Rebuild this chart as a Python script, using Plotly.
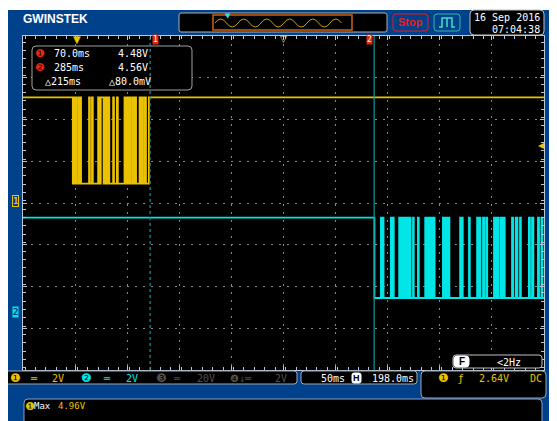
import plotly.graph_objects as go

time_range_ms = [-52.0, 448.0]      # 10 div x 50 ms, H position 198.0 ms
time_per_div_ms = 50.0
h_position_ms = 198.0
trigger_time_ms = 0.0
trigger_level_v = 2.64

ch1_volts_per_div = 2.0
ch1_ground_div = 0.05
ch1_high_v = 4.96
ch1_low_v = 0.83
ch1_fall_ms = -4.2
ch1_rise_ms = 68.8
ch1_pulses_ms = [(-3.4, -2.6), (-1.7, -1.0), (0.8, 1.6), (2.9, 3.7),
                 (11.4, 12.2), (14.2, 15.0), (20.1, 21.1), (22.6, 25.4),
                 (26.2, 27.0), (27.8, 28.8), (29.8, 30.8), (34.5, 35.3),
                 (38.1, 39.0), (45.4, 46.2), (47.8, 48.6), (50.3, 51.2),
                 (53.0, 53.9), (55.6, 56.5), (59.9, 60.7), (62.3, 63.2),
                 (65.0, 66.0)]

ch2_volts_per_div = 2.0
ch2_ground_div = -2.61
ch2_high_v = 4.52
ch2_low_v = 0.67
ch2_fall_ms = 285.3
ch2_pulses_ms = [(291.5, 292.5), (293.2, 294.0), (301.0, 302.0), (303.0, 303.8),
                 (309.0, 310.0), (311.5, 312.5), (313.5, 315.0), (316.5, 317.5),
                 (318.8, 320.0), (322.3, 323.0), (327.0, 327.8), (334.0, 335.5),
                 (336.8, 338.0), (339.5, 341.0), (342.3, 343.0), (351.0, 352.2),
                 (353.5, 355.0), (356.2, 357.2), (367.5, 368.5), (369.2, 370.0),
                 (376.0, 376.8), (383.8, 385.0), (386.2, 387.0), (389.5, 390.5),
                 (392.5, 393.5), (400.0, 401.5), (403.0, 404.5), (406.5, 408.0),
                 (409.5, 410.3), (417.3, 418.5), (421.0, 422.5), (425.0, 425.8),
                 (433.5, 434.5), (436.5, 437.8), (442.2, 443.2), (445.5, 446.5)]

cursor_times_ms = [70.0, 285.0]
cursor_readout = [("70.0ms", "4.48V"), ("285ms", "4.56V"), ("215ms", "80.0mV")]
measure_max = "4.96V"
date_text = "16 Sep 2016"
time_text = "07:04:38"

# ---------------- styling ----------------
BLUE = "#00418C"
YEL = "#EBC200"
CYA = "#00E6E6"
TEAL = "#109A9A"
GRAY = "#9AA4B0"
MONO = "DejaVu Sans Mono"
SANS = "Liberation Sans"

PAGE = 8                       # browser body margin
W, H = 557 - PAGE, 421 - PAGE
# plot area in screen pixels
PL, PR, PT, PB = 23, 544, 36, 370


def X(px):
    return (px - PL) / (PR - PL)


def Y(py):
    return (PB - py) / (PB - PT)


def build(fall, pulses, rise, high, low):
    xs = [time_range_ms[0], fall]
    ys = [high, low]
    for a, b in pulses:
        xs += [a, b]
        ys += [high, low]
    if rise is not None:
        xs.append(rise)
        ys.append(high)
    xs.append(time_range_ms[1])
    ys.append(ys[-1])
    return xs, ys


x1, y1 = build(ch1_fall_ms, ch1_pulses_ms, ch1_rise_ms, ch1_high_v, ch1_low_v)
x2, y2 = build(ch2_fall_ms, ch2_pulses_ms, None, ch2_high_v, ch2_low_v)

fig = go.Figure()
fig.add_trace(go.Scatter(x=x1, y=y1, mode="lines", line=dict(color=YEL, width=1.8, shape="hv"),
                         yaxis="y", hoverinfo="skip"))
fig.add_trace(go.Scatter(x=x2, y=y2, mode="lines", line=dict(color=CYA, width=1.8, shape="hv"),
                         yaxis="y2", hoverinfo="skip"))

shapes = []
ann = []


def rrect(x0, y0, x1_, y1_, r=3, fill="black", line=GRAY, lw=1):
    p = (f"M {X(x0 + r)},{Y(y0)} L {X(x1_ - r)},{Y(y0)} Q {X(x1_)},{Y(y0)} {X(x1_)},{Y(y0 + r)} "
         f"L {X(x1_)},{Y(y1_ - r)} Q {X(x1_)},{Y(y1_)} {X(x1_ - r)},{Y(y1_)} "
         f"L {X(x0 + r)},{Y(y1_)} Q {X(x0)},{Y(y1_)} {X(x0)},{Y(y1_ - r)} "
         f"L {X(x0)},{Y(y0 + r)} Q {X(x0)},{Y(y0)} {X(x0 + r)},{Y(y0)} Z")
    shapes.append(dict(type="path", path=p, xref="paper", yref="paper", fillcolor=fill,
                       line=dict(color=line, width=lw), layer="above"))


def rect(x0, y0, x1_, y1_, fill, line=None, lw=0):
    shapes.append(dict(type="rect", xref="paper", yref="paper", x0=X(x0), x1=X(x1_), y0=Y(y1_), y1=Y(y0),
                       fillcolor=fill, line=dict(color=line or fill, width=lw), layer="above"))


def txt(s, px, py, color="white", size=10, anchor="left", family=MONO, bg=None, border=None):
    d = dict(text=s, x=X(px), y=Y(py), xref="paper", yref="paper", showarrow=False, xanchor=anchor,
             yanchor="middle", font=dict(color=color, size=size, family=family), borderpad=0)
    if bg:
        d["bgcolor"] = bg
    if border:
        d["bordercolor"] = border
        d["borderwidth"] = 1
    ann.append(d)


# white margin at top
rect(0, 0, 600, 10, "white")

# top bar
txt("<b>GWINSTEK</b>", 22, 19, "white", 12, family=SANS)
rrect(179, 13, 387, 32, r=2, fill="black", line="#B0B0B0")
shapes.append(dict(type="rect", xref="paper", yref="paper", x0=X(213), x1=X(352), y0=Y(30), y1=Y(15),
                   line=dict(color="#D0600A", width=1.5), layer="above"))
q = 5.75
wave = f"M {X(215)},{Y(23)} Q {X(215 + q)},{Y(23 - 8)} {X(215 + 2 * q)},{Y(23)}"
xx = 215 + 2 * q
while xx + 2 * q <= 350:
    xx += 2 * q
    wave += f" T {X(xx)},{Y(23)}"
shapes.append(dict(type="path", path=wave, xref="paper", yref="paper",
                   line=dict(color="#C9A000", width=1), layer="above"))
txt("▼", 228, 16, "#30E0E0", 7, anchor="center", family="DejaVu Sans")

rrect(393, 14, 428, 31, r=3, fill=BLUE, line="#E02020")
txt("<b>Stop</b>", 410.5, 22.5, "#E82020", 11, anchor="center", family=SANS)
rrect(434, 14, 460, 31, r=3, fill=BLUE, line="#30B8A8")
shapes.append(dict(type="path", xref="paper", yref="paper",
                   path=(f"M {X(439)},{Y(27)} L {X(442)},{Y(27)} L {X(442)},{Y(18)} L {X(452)},{Y(18)} "
                         f"L {X(452)},{Y(27)} L {X(455)},{Y(27)} M {X(447)},{Y(18)} L {X(447)},{Y(27)}"),
                   line=dict(color="#40E0C0", width=1.5), layer="above"))
rrect(470, 10, 544, 35, r=4, fill="black", line="#C0C0C0")
txt(date_text, 541, 18, "white", 10, anchor="right")
txt(time_text, 541, 29, "white", 10, anchor="right")

# cursor readout box
rrect(32, 46, 192, 90, r=4, fill="black", line="#A0A0A0")
txt("❶", 34, 53, "#E82810", 11, family="DejaVu Sans")
txt("❷", 34, 67, "#E82810", 11, family="DejaVu Sans")
txt(cursor_readout[0][0], 53, 53, "white", 10)
txt(cursor_readout[0][1], 117, 53, "white", 10)
txt(cursor_readout[1][0], 53, 67, "white", 10)
txt(cursor_readout[1][1], 117, 67, "white", 10)
txt("△" + cursor_readout[2][0], 44, 81, "white", 10)
txt("△" + cursor_readout[2][1], 108, 81, "white", 10)

# cursors
for i, t in enumerate(cursor_times_ms):
    shapes.append(dict(type="line", xref="x", yref="paper", x0=t, x1=t, y0=0, y1=1,
                       line=dict(color=TEAL, width=1.2, dash="3px,3px" if i == 0 else "solid"),
                       layer="above"))
ann.append(dict(text="1", x=cursor_times_ms[0], y=Y(40), xref="x", yref="paper", showarrow=False,
                xshift=5, font=dict(color="white", size=8, family=MONO), bgcolor="#E02810",
                borderpad=0, yanchor="middle"))
ann.append(dict(text="2", x=cursor_times_ms[1], y=Y(40), xref="x", yref="paper", showarrow=False,
                xshift=-5, font=dict(color="white", size=8, family=MONO), bgcolor="#E02810",
                borderpad=0, yanchor="middle"))

# trigger / position markers
ann.append(dict(text="▼", x=trigger_time_ms, y=Y(39), xref="x", yref="paper", showarrow=False,
                font=dict(color=YEL, size=10, family="DejaVu Sans"), yanchor="middle"))
ann.append(dict(text="▽", x=h_position_ms, y=Y(39), xref="x", yref="paper", showarrow=False,
                font=dict(color="#E8D890", size=9, family="DejaVu Sans"), yanchor="middle"))
ann.append(dict(text="◀", x=X(541), y=trigger_level_v, xref="paper", yref="y", showarrow=False,
                font=dict(color=YEL, size=8, family="DejaVu Sans"), yanchor="middle", xanchor="center"))

# channel ground markers
ann.append(dict(text="<b>1</b>", x=X(15), y=0, xref="paper", yref="y", showarrow=False,
                font=dict(color=YEL, size=9, family=MONO), bordercolor=YEL, borderwidth=1,
                borderpad=0, bgcolor=BLUE, yanchor="middle", xanchor="center"))
ann.append(dict(text="<b>2</b>", x=X(15), y=0, xref="paper", yref="y2", showarrow=False,
                font=dict(color=BLUE, size=9, family=MONO), bgcolor=CYA, borderpad=0,
                yanchor="middle", xanchor="center"))

# frequency box (inside grid)
rrect(453, 355, 542, 368, r=3, fill="black", line="#C0C0C0")
rrect(454, 356, 469, 367, r=3, fill="white", line="white")
txt("<b>F</b>", 461.5, 361.5, "black", 10, anchor="center", family=SANS)
txt("<2Hz", 496, 362, "white", 10)

# status bar
rrect(4, 371, 297, 384, r=3, fill="black", line="#A0A8B0")
txt("❶", 9, 378, YEL, 12, family="DejaVu Sans")
txt("═", 29, 378, YEL, 10)
txt("2V", 51, 378, YEL, 10)
txt("❷", 80, 378, CYA, 12, family="DejaVu Sans")
txt("═", 102, 378, CYA, 10)
txt("2V", 125, 378, CYA, 10)
txt("❸", 155, 378, "#505050", 12, family="DejaVu Sans")
txt("═", 172, 378, "#505050", 10)
txt("20V", 196, 378, "#505050", 10)
txt("❹↓═", 229, 378, "#505050", 10)
txt("2V", 274, 378, "#505050", 10)

rrect(301, 371, 417, 384, r=3, fill="black", line="#A0A8B0")
txt("50ms", 320, 378, "white", 10)
rrect(352, 373, 361, 383, r=2, fill="white", line="white")
txt("<b>H</b>", 356.5, 378, "black", 9, anchor="center", family=SANS)
txt("198.0ms", 371, 378, "white", 10)

rrect(421, 371, 546, 398, r=4, fill="black", line="#A0A8B0")
txt("❶", 437, 378, YEL, 12, family="DejaVu Sans")
txt("ƒ", 457, 378, YEL, 11, family="DejaVu Sans")
txt("2.64V", 478, 378, YEL, 10)
txt("DC", 529, 378, YEL, 10)

# measurement panel
rrect(24, 399, 542, 430, r=4, fill="black", line="#8CA0C0")
txt("❶", 24, 406, YEL, 11, family="DejaVu Sans")
txt("Max", 33, 406, "white", 9)
txt(measure_max, 57, 406, YEL, 9)

ymin1 = (-4 - ch1_ground_div) * ch1_volts_per_div
ymax1 = (4 - ch1_ground_div) * ch1_volts_per_div
ymin2 = (-4 - ch2_ground_div) * ch2_volts_per_div
ymax2 = (4 - ch2_ground_div) * ch2_volts_per_div

fig.update_layout(
    width=W, height=H,
    margin=dict(l=PL - PAGE, r=W - (PR - PAGE), t=PT - PAGE, b=H - (PB - PAGE), pad=0),
    paper_bgcolor=BLUE, plot_bgcolor="black", showlegend=False,
    xaxis=dict(range=time_range_ms, tick0=time_range_ms[0], dtick=time_per_div_ms,
               showgrid=True, gridcolor="#8A8A8A", griddash="2px,6px", gridwidth=1,
               zeroline=False, showticklabels=False, ticks="inside", ticklen=4, tickcolor="#B8C8DC",
               minor=dict(dtick=time_per_div_ms / 5, ticks="inside", ticklen=3, tickcolor="#B8C8DC",
                          showgrid=False),
               showline=True, linecolor="#B8C8DC", linewidth=1, mirror="ticks", fixedrange=True),
    yaxis=dict(range=[ymin1, ymax1], tick0=ymin1, dtick=ch1_volts_per_div,
               showgrid=True, gridcolor="#8A8A8A", griddash="2px,6px", gridwidth=1,
               zeroline=False, showticklabels=False, ticks="inside", ticklen=4, tickcolor="#B8C8DC",
               minor=dict(dtick=ch1_volts_per_div / 5, ticks="inside", ticklen=3, tickcolor="#B8C8DC",
                          showgrid=False),
               showline=True, linecolor="#B8C8DC", linewidth=1, mirror="ticks", fixedrange=True),
    yaxis2=dict(range=[ymin2, ymax2], overlaying="y", visible=False, showgrid=False, fixedrange=True),
    shapes=shapes, annotations=ann,
)

fig.write_html("out.html")
